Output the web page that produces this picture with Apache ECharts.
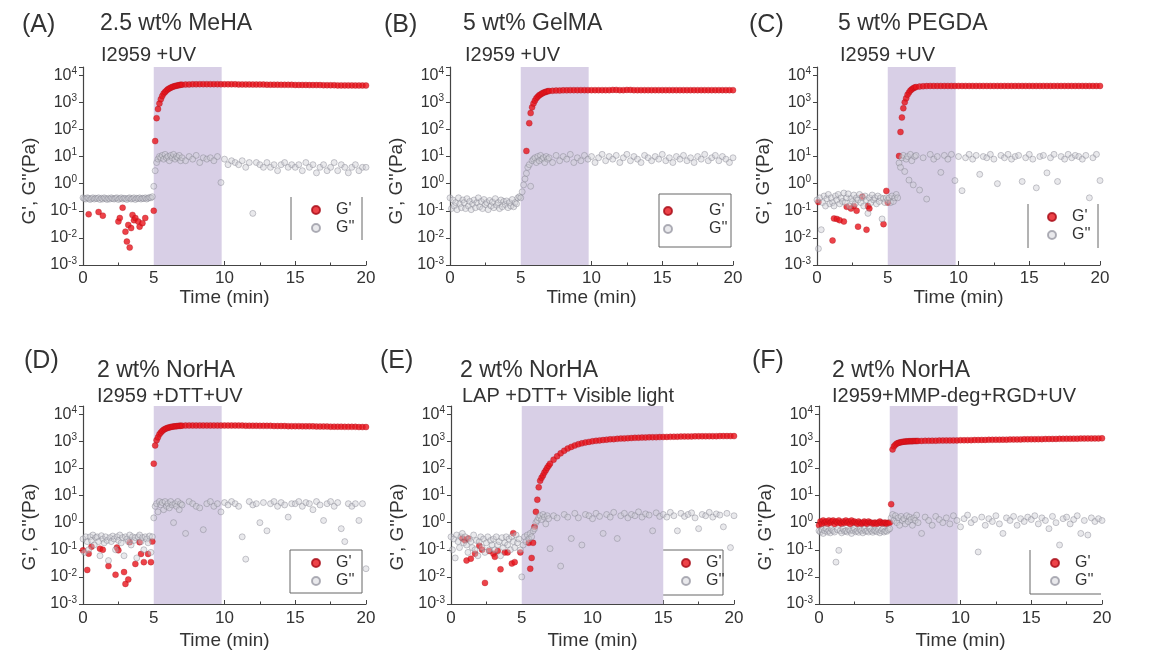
<!DOCTYPE html>
<html>
<head>
<meta charset="utf-8">
<script src="https://cdn.jsdelivr.net/npm/echarts@6/dist/echarts.min.js"></script>
<style>
html, body { margin: 0; background: #fff; }
#chart { width: 1152px; height: 653px; }
</style>
</head>
<body>
<div id="chart"></div>
<script>
const N = null;

// time (min): 0.1 min steps up to 6.9, then 0.25 min steps
const time = [
  0,0.1,0.2,0.3,0.4,0.5,0.6,0.7,0.8,0.9,
  1,1.1,1.2,1.3,1.4,1.5,1.6,1.7,1.8,1.9,
  2,2.1,2.2,2.3,2.4,2.5,2.6,2.7,2.8,2.9,
  3,3.1,3.2,3.3,3.4,3.5,3.6,3.7,3.8,3.9,
  4,4.1,4.2,4.3,4.4,4.5,4.6,4.7,4.8,4.9,
  5,5.1,5.2,5.3,5.4,5.5,5.6,5.7,5.8,5.9,
  6,6.1,6.2,6.3,6.4,6.5,6.6,6.7,6.8,6.9,
  7,7.25,7.5,7.75,8,8.25,8.5,8.75,
  9,9.25,9.5,9.75,10,10.25,10.5,10.75,
  11,11.25,11.5,11.75,12,12.25,12.5,12.75,
  13,13.25,13.5,13.75,14,14.25,14.5,14.75,
  15,15.25,15.5,15.75,16,16.25,16.5,16.75,
  17,17.25,17.5,17.75,18,18.25,18.5,18.75,
  19,19.25,19.5,19.75,20
];

// (A) 2.5 wt% MeHA
const gpA = [
  N,N,N,N,0.074,N,N,N,N,N,
  N,0.09,N,N,0.066,N,N,N,N,N,
  N,N,N,N,N,0.04,0.054,N,0.13,N,
  0.017,0.0073,0.03,0.0044,0.023,0.07,0.045,0.054,N,0.04,
  0.026,N,0.035,N,0.054,N,N,N,N,N,
  0.1,37,260,560,900,1300,1700,2100,2400,2700,
  3000,3250,3450,3650,3800,3950,4100,4200,4300,4400,
  4450,4500,4550,4600,4600,4650,4650,4650,
  4650,4650,4650,4600,4600,4600,4600,4600,
  4550,4550,4550,4550,4500,4500,4500,4500,
  4450,4450,4450,4450,4400,4400,4400,4400,
  4350,4350,4350,4350,4300,4300,4300,4300,
  4250,4250,4250,4250,4200,4200,4200,4200,
  4200,4150,4150,4150,4150
];
const gppA = [
  0.3,0.28,0.27,0.3,0.29,0.26,0.28,0.3,0.27,0.29,
  0.28,0.3,0.26,0.29,0.27,0.3,0.28,0.26,0.29,0.27,
  0.3,0.28,0.27,0.29,0.3,0.26,0.28,0.3,0.27,0.29,
  0.28,0.26,0.29,0.3,0.27,0.28,0.3,0.26,0.29,0.28,
  0.3,0.27,0.29,0.28,0.3,0.27,0.29,0.31,0.3,0.33,
  0.8,3,6,8,10,9,11,8,12,9,
  10,7,11,9,12,8,10,9,11,7,
  9,7,10,8,11,6,9,8,
  9,7,10,1.1,8,5,7,6,
  5,7,4,6,0.08,6,5,4,
  6,4,5,3,5,6,4,5,
  4,5,3,6,4,5,2.5,4,
  5,3,4,6,3,5,4,2.5,
  4,5,3,4,4
];

// (B) 5 wt% GelMA
const gpB = [
  N,N,N,N,N,N,N,N,N,N,
  N,N,N,N,N,N,N,N,N,N,
  N,N,N,N,N,N,N,N,N,N,
  N,N,N,N,N,N,N,N,N,N,
  N,N,N,N,N,N,N,N,N,N,
  N,N,N,N,16,N,170,400,650,900,
  1150,1400,1600,1800,1950,2100,2250,2350,2450,2550,
  2600,2650,2700,2700,2750,2750,2800,2800,
  2800,2800,2800,2800,2800,2800,2800,2800,
  2800,2800,2850,2850,2800,2800,2850,2850,
  2800,2800,2800,2800,2800,2800,2800,2800,
  2800,2800,2800,2800,2800,2800,2800,2800,
  2800,2800,2800,2800,2800,2800,2800,2800,
  2800,2800,2800,2800,2800
];
const gppB = [
  0.3,0.12,0.25,0.15,0.2,0.11,0.3,0.18,0.13,0.25,
  0.2,0.12,0.28,0.15,0.22,0.11,0.18,0.25,0.13,0.2,
  0.3,0.14,0.22,0.12,0.26,0.17,0.2,0.11,0.24,0.15,
  0.21,0.13,0.28,0.16,0.2,0.12,0.25,0.14,0.22,0.17,
  0.23,0.13,0.2,0.15,0.26,0.14,0.2,0.18,0.3,0.33,
  0.3,0.5,0.9,1.5,2.4,4,5,0.8,7,8,
  9,6,10,7,11,8,9,6,10,8,
  9,6,11,7,10,8,12,6,
  9,7,11,8,10,6,9,12,
  7,10,8,11,6,9,12,7,
  10,8,6,11,9,7,10,8,
  12,7,9,6,10,8,11,7,
  9,6,10,8,12,7,9,11,
  7,10,8,6,9
];

// (C) 5 wt% PEGDA
const gpC = [
  N,0.21,N,N,N,N,N,N,N,N,
  N,0.008,0.052,N,0.05,N,0.045,N,N,0.04,
  N,0.14,N,N,0.12,N,0.15,N,0.1,0.026,
  N,N,0.33,N,N,0.02,0.15,0.12,N,N,
  N,N,N,N,N,N,N,0.032,N,0.54,
  0.2,N,N,N,N,N,N,N,10.5,80,
  275,600,1000,1400,1900,2300,2700,3000,3300,3500,
  3650,3800,3900,3950,4000,4000,4000,4000,
  4000,4000,4000,4000,4000,4000,4000,4000,
  4000,4000,4000,4000,4000,4000,4000,4000,
  4000,4000,4000,4000,4000,4000,4000,4000,
  4000,4000,4000,4000,4000,4000,4000,4000,
  4000,4000,4000,4000,4000,4000,4000,4000,
  4000,4000,4000,4000,4000
];
const gppC = [
  0.25,0.004,0.3,0.02,0.2,0.35,0.15,0.28,0.4,0.18,
  0.3,0.2,0.15,0.35,0.25,0.4,0.18,0.3,0.22,0.45,
  0.2,0.3,0.42,0.15,0.28,0.22,0.38,0.18,0.3,0.25,
  0.4,0.2,0.3,0.15,0.35,0.25,0.08,0.3,0.2,0.38,
  0.25,0.3,0.18,0.35,0.22,0.3,0.05,0.28,0.2,0.3,
  0.25,0.3,0.2,0.35,0.22,0.3,0.4,0.3,5.8,4,
  9,11,2.8,8,10,1.35,12,7,0.9,10,
  11,0.58,9,0.27,12,8,10,2.6,
  11,8,12,1.3,10,0.55,9,12,
  8,11,2.2,10,9,12,8,1,
  11,9,12,8,10,11,1.2,9,
  12,8,0.7,10,11,2.5,9,12,
  1.2,10,8,12,9,11,10,8,
  11,0.3,9,12,1.3
];

// (D) 2 wt% NorHA, I2959+DTT+UV
const gpD = [
  0.095,N,N,0.018,0.072,N,0.13,N,N,N,
  N,N,0.11,N,0.1,N,N,N,0.025,N,
  N,N,N,0.012,0.12,0.095,N,N,N,0.015,
  0.0055,N,0.008,0.19,N,N,N,0.03,N,N,
  0.19,0.07,N,0.035,N,N,0.07,N,0.035,0.2,
  150,700,1100,1400,1800,2100,2400,2650,2850,3000,
  3150,3250,3350,3450,3500,3550,3600,3650,3700,3720,
  3750,3780,3800,3800,3800,3800,3800,3800,
  3800,3800,3800,3800,3800,3800,3800,3800,
  3780,3780,3750,3750,3750,3750,3700,3700,
  3700,3700,3650,3650,3650,3650,3600,3600,
  3600,3600,3550,3550,3550,3550,3500,3500,
  3500,3500,3450,3450,3450,3450,3400,3400,
  3400,3400,3350,3350,3350
];
const gppD = [
  0.25,0.08,0.3,0.2,0.1,0.3,0.22,0.35,0.15,0.28,
  0.3,0.2,0.06,0.33,0.25,0.18,0.3,0.22,0.04,0.28,
  0.2,0.32,0.25,0.1,0.3,0.22,0.35,0.18,0.28,0.06,
  0.3,0.25,0.2,0.35,0.15,0.3,0.22,0.28,0.05,0.3,
  0.35,0.2,0.28,0.1,0.3,0.25,0.18,0.32,0.08,0.3,
  1.5,4,5,2.5,6,4.5,5.5,3,6,4,
  5,3.5,6,4.5,1,5,4,6,3,5,
  4.5,0.4,6,5,4,3.5,0.55,5,
  6,4,5,2.5,5.5,4.5,6,5,
  4,0.3,0.045,6,4.5,5,1,5.5,
  0.5,5,6,4,5.5,4.5,1.6,5,
  5,6,4,5.5,5,3,6,4.5,
  1.2,5,6,4,5.5,0.6,0.2,5,
  4,5,1.2,5,0.02
];

// (E) 2 wt% NorHA, LAP+DTT+visible light
const gpE = [
  N,N,N,N,N,N,N,N,0.26,N,
  0.22,0.04,0.26,N,0.047,N,N,0.072,N,N,
  0.14,N,0.1,N,0.006,N,N,0.09,N,N,
  0.072,0.055,N,0.09,N,0.019,N,N,0.08,N,
  0.08,N,N,0.031,0.41,0.035,N,N,N,0.08,
  N,N,N,N,N,0.18,0.02,0.05,0.18,0.7,
  2.5,7,20,35,45,55,70,85,105,125,
  150,210,280,360,450,540,620,700,
  780,840,900,950,1000,1040,1080,1110,
  1150,1180,1200,1230,1260,1280,1300,1320,
  1340,1360,1370,1380,1400,1410,1420,1430,
  1440,1450,1460,1470,1480,1490,1500,1500,
  1510,1520,1520,1530,1530,1540,1540,1540,
  1550,1550,1550,1550,1550
];
const gppE = [
  0.3,0.1,0.25,0.05,0.35,0.2,0.12,0.3,0.4,0.18,
  0.3,0.15,0.08,0.25,0.2,0.12,0.35,0.1,0.22,0.06,
  0.2,0.3,0.12,0.25,0.08,0.18,0.3,0.1,0.22,0.15,
  0.25,0.1,0.3,0.15,0.2,0.06,0.28,0.12,0.18,0.3,
  0.15,0.25,0.1,0.3,0.2,0.12,0.35,0.18,0.25,0.1,
  0.01,0.15,0.3,0.2,0.35,0.25,0.4,0.3,0.5,0.6,
  1,1.2,1.5,1.8,1.3,2,1.6,0.9,1.8,1.4,
  0.11,1.8,1.5,0.025,2,1.6,0.26,2.2,
  1.5,0.15,2,1.8,1.4,2.2,1.7,0.4,
  2,1.6,2.4,0.26,1.8,2.2,1.5,2,
  1.8,2.5,1.6,2.1,1.9,0.5,2.3,1.7,
  2,1.6,2.4,1.8,0.5,2.2,1.7,2,
  2.3,1.5,0.6,2,1.8,2.4,1.6,2.1,
  1.9,0.7,2.2,0.12,1.8
];

// (F) 2 wt% NorHA, I2959+MMP-deg+RGD+UV
const gpF = [
  0.8,1.1,0.9,1.2,1,1.1,0.9,1.2,1,1.1,
  1.2,0.9,1.1,1,1.2,1,0.9,1.1,1,1.2,
  1,1.1,0.9,1.2,1,1.1,1,0.9,1.1,1,
  0.9,1,1.1,1,0.9,1.1,1,1,0.9,1,
  1,0.9,1,1.1,1,0.9,1,1,0.9,1,
  1,4.8,500,650,750,820,870,900,930,950,
  970,980,990,1000,1000,1010,1010,1020,1020,1020,
  1030,1030,1040,1040,1050,1050,1060,1060,
  1070,1070,1080,1080,1090,1090,1100,1100,
  1110,1110,1120,1120,1130,1130,1140,1140,
  1150,1150,1160,1160,1170,1170,1180,1180,
  1190,1190,1200,1200,1210,1210,1220,1220,
  1230,1230,1240,1240,1250,1250,1260,1260,
  1270,1270,1280,1280,1290
];
const gppF = [
  0.5,0.45,0.55,0.4,0.5,0.6,0.45,0.5,0.42,0.55,
  0.5,0.45,0.035,0.55,0.095,0.5,0.42,0.58,0.48,0.5,
  0.45,0.55,0.5,0.4,0.52,0.6,0.46,0.5,0.44,0.55,
  0.5,0.42,0.56,0.48,0.5,0.45,0.6,0.5,0.44,0.52,
  0.5,0.46,0.55,0.42,0.5,0.58,0.45,0.5,0.48,0.55,
  0.6,1.5,2,1.2,1.8,1,1.5,0.8,1.7,1.2,
  1.4,0.9,1.8,1.1,1.6,1.3,0.8,1.5,1.2,1.9,
  1,0.4,1.6,1.2,0.8,1.7,1.3,1,
  1.5,0.9,1.8,1.2,0.7,1.4,1.9,1,
  1.3,0.083,1.6,0.8,1.4,1.1,1.8,0.9,
  0.4,1.5,1.2,1.7,0.8,1.4,1.1,1.6,
  1.3,1.8,0.9,1.5,1.2,0.6,1.7,1,
  0.15,1.4,1.6,0.9,1.3,1.8,0.4,1.2,
  0.35,1.5,1.1,1.4,1.2
];

// light exposure window (min)
const bandStart = [5, 5, 5, 5, 5, 5];
const bandEnd = [9.8, 9.8, 9.8, 9.8, 15, 9.8];

const letters = ['(A)', '(B)', '(C)', '(D)', '(E)', '(F)'];
const titles = ['2.5 wt% MeHA', '5 wt% GelMA', '5 wt% PEGDA', '2 wt% NorHA', '2 wt% NorHA', '2 wt% NorHA'];
const subtitles = ['I2959 +UV', 'I2959 +UV', 'I2959 +UV', 'I2959 +DTT+UV', 'LAP +DTT+ Visible light', 'I2959+MMP-deg+RGD+UV'];

const gpList = [gpA, gpB, gpC, gpD, gpE, gpF];
const gppList = [gppA, gppB, gppC, gppD, gppE, gppF];

const font = "'Liberation Sans', Arial, sans-serif";
const ink = '#333';

// layout
const gridPos = [[83, 67], [450, 67], [817, 67], [83, 406], [451, 406], [819, 406]];
const letterPos = [[22, 12], [384, 12], [749, 12], [24, 348], [380, 348], [752, 348]];
const titlePos = [[100, 12], [463, 12], [838, 12], [97, 359], [460, 359], [832, 359]];
const subPos = [[101, 45], [465, 45], [840, 45], [97, 386], [462, 386], [832, 386]];
const legendPos = [[311, 202], [663, 203], [1047, 209], [311, 555], [681, 555], [1050, 555]];
const legendPad = [11, 32, 11, 11, 11, 11];

const toPairs = vals => time.map((t, i) => [t, vals[i]]).filter(p => p[1] != null);

const expLabel = v => {
  const lg = Math.log10(v);
  const e = Math.round(lg);
  if (Math.abs(lg - e) > 0.01) return '';
  return '{b|10}{s|' + e + '}';
};

const grid = [], xAxis = [], yAxis = [], series = [], legend = [], title = [];

for (let i = 0; i < 6; i++) {
  const row2 = i >= 3;
  grid.push({ left: gridPos[i][0], top: gridPos[i][1], width: 283, height: 198 });

  xAxis.push({
    gridIndex: i, type: 'value', min: 0, max: 20, interval: 5,
    name: 'Time (min)', nameLocation: 'middle', nameGap: row2 ? 27 : 20,
    nameTextStyle: { fontSize: 19, color: ink, fontFamily: font },
    axisLine: { lineStyle: { color: '#444', width: 1.2 } },
    axisTick: { inside: true, length: 4, lineStyle: { color: '#444' } },
    minorTick: { show: true, splitNumber: 2, length: 2.5, lineStyle: { color: '#444' } },
    splitLine: { show: false },
    axisLabel: { fontSize: 17, color: ink, fontFamily: font, margin: row2 ? 6 : 5 }
  });

  yAxis.push({
    gridIndex: i, type: 'log', logBase: 10, min: 0.001, max: 20000, splitNumber: 8,
    name: "G', G''(Pa)", nameLocation: 'middle', nameGap: 44,
    nameTextStyle: { fontSize: 19, color: ink, fontFamily: font, padding: [0, row2 ? 44 : 30, 0, 0] },
    axisLine: { show: true, lineStyle: { color: '#444', width: 1.2 } },
    axisTick: { show: true, length: 4, lineStyle: { color: '#444' } },
    splitLine: { show: false },
    axisLabel: {
      margin: 6,
      formatter: expLabel,
      rich: {
        b: { fontSize: 16, color: ink, fontFamily: font, lineHeight: 18 },
        s: { fontSize: 10, color: ink, fontFamily: font, lineHeight: 10, verticalAlign: 'top' }
      }
    }
  });

  series.push({
    type: 'scatter', name: "G'", xAxisIndex: i, yAxisIndex: i,
    data: toPairs(gpList[i]), symbolSize: 6,
    itemStyle: { color: '#e8141c', borderColor: '#a80c18', borderWidth: 0.4 },
    markArea: {
      silent: true,
      itemStyle: { color: '#d8cfe6' },
      data: [[{ xAxis: bandStart[i] }, { xAxis: bandEnd[i] }]]
    }
  });
  series.push({
    type: 'scatter', name: "G''", xAxisIndex: i, yAxisIndex: i,
    data: toPairs(gppList[i]), symbolSize: 6,
    itemStyle: { color: 'rgba(205,205,212,0.55)', borderColor: 'rgba(125,125,138,0.75)', borderWidth: 0.7 }
  });

  legend.push({
    data: ["G'", "G''"], orient: 'vertical', icon: 'circle',
    left: legendPos[i][0], top: legendPos[i][1], padding: 0,
    itemWidth: 8, itemHeight: 8, itemGap: 2, selectedMode: false,
    textStyle: { fontSize: 16, color: ink, fontFamily: font, lineHeight: 16, padding: [0, 0, 0, legendPad[i]] }
  });

  title.push({ text: letters[i], left: letterPos[i][0], top: letterPos[i][1], padding: 0,
    textStyle: { fontSize: 25, fontWeight: 'normal', color: ink, fontFamily: font, lineHeight: 26 } });
  title.push({ text: titles[i], left: titlePos[i][0], top: titlePos[i][1], padding: 0,
    textStyle: { fontSize: 23, fontWeight: 'normal', color: ink, fontFamily: font, lineHeight: 24 } });
  title.push({ text: subtitles[i], left: subPos[i][0], top: subPos[i][1], padding: 0,
    textStyle: { fontSize: 20, fontWeight: 'normal', color: ink, fontFamily: font, lineHeight: 20 } });
}

// legend frames as drawn in the figure
const frameStyle = { stroke: '#666', lineWidth: 1 };
const vline = (x, y1, y2) => ({ type: 'line', shape: { x1: x, y1: y1, x2: x, y2: y2 }, style: frameStyle, silent: true });
const hline = (y, x1, x2) => ({ type: 'line', shape: { x1: x1, y1: y, x2: x2, y2: y }, style: frameStyle, silent: true });
const box = (x, y, w, h) => ({ type: 'rect', shape: { x: x, y: y, width: w, height: h }, style: { fill: 'none', stroke: '#666', lineWidth: 1 }, silent: true });

const graphic = [
  vline(291, 197, 240), vline(362, 197, 240),
  box(659, 194, 72, 53),
  vline(1028, 204, 248), vline(1098, 204, 248),
  box(290, 550, 72, 43),
  box(662, 550, 61, 45),
  vline(1030, 550, 594), hline(594, 1030, 1101)
];

const chart = echarts.init(document.getElementById('chart'));
chart.setOption({
  animation: false,
  backgroundColor: '#fff',
  title, grid, xAxis, yAxis, legend, series, graphic
});
</script>
</body>
</html>
